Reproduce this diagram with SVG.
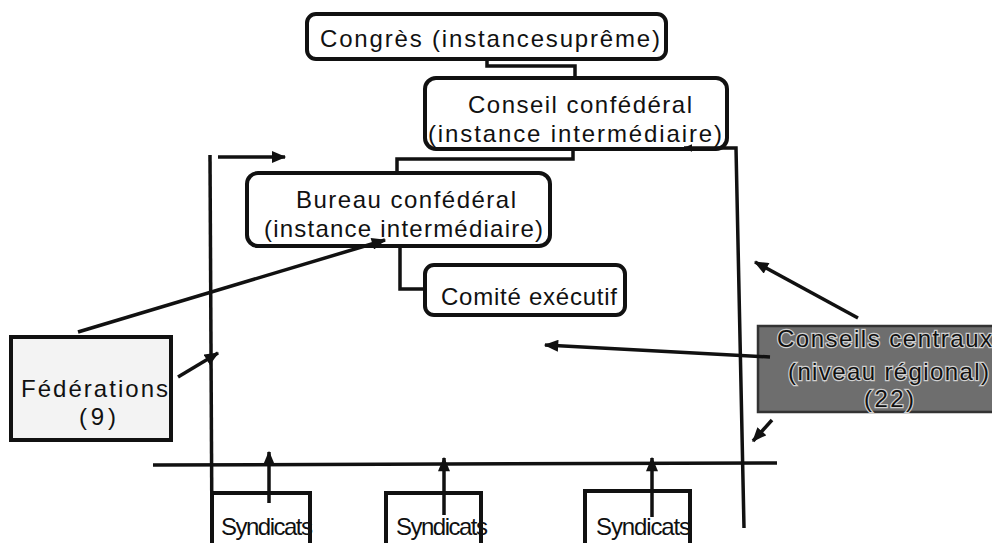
<svg xmlns="http://www.w3.org/2000/svg" width="992" height="543" viewBox="0 0 992 543">
<style>
.box{fill:#fff;stroke:#111;stroke-width:4}
.t{font-family:"Liberation Sans",Arial,sans-serif;fill:#111;font-size:24px}
.ln{fill:none;stroke:#111;stroke-width:3.5}
.halo{paint-order:stroke;stroke:#d0d0d0;stroke-width:2.4px}
</style>
<defs>
<marker id="ah" viewBox="0 0 12 10" refX="11" refY="5" markerWidth="15" markerHeight="12" orient="auto" markerUnits="userSpaceOnUse">
<path d="M0,0 L12,5 L0,10 Z" fill="#111"/>
</marker>
<marker id="ahs" viewBox="0 0 12 10" refX="11" refY="5" markerWidth="9" markerHeight="8" orient="auto" markerUnits="userSpaceOnUse">
<path d="M0,0 L12,5 L0,10 Z" fill="#111"/>
</marker>
</defs>
<rect width="992" height="543" fill="#fff"/>

<g id="congres">
<rect class="box" x="307" y="14" width="359" height="45" rx="9"/>
<text class="t" x="320" y="47" textLength="340" lengthAdjust="spacing">Congrès (instancesuprême)</text>
</g>

<g id="conseil-confederal">
<rect class="box" x="425" y="78" width="302" height="71" rx="11"/>
<text class="t" x="468" y="113" textLength="224" lengthAdjust="spacing">Conseil confédéral</text>
<text class="t" x="428" y="142" textLength="294" lengthAdjust="spacing">(instance intermédiaire)</text>
</g>

<g id="bureau-confederal">
<rect class="box" x="247" y="173" width="303" height="73" rx="11"/>
<text class="t" x="296" y="208" textLength="220" lengthAdjust="spacing">Bureau confédéral</text>
<text class="t" x="264" y="237" textLength="279" lengthAdjust="spacing">(instance intermédiaire)</text>
</g>

<g id="comite-executif">
<rect class="box" x="425" y="265" width="200" height="50" rx="9"/>
<text class="t" x="441" y="305" font-size="23" textLength="176" lengthAdjust="spacing">Comité exécutif</text>
</g>

<g id="federations">
<rect x="11" y="337" width="160" height="103" fill="#f3f3f3" stroke="#111" stroke-width="4"/>
<text class="t" x="21" y="397" font-size="23" textLength="147" lengthAdjust="spacing">Fédérations</text>
<text class="t" x="79" y="425" font-size="23" textLength="37" lengthAdjust="spacing">(9)</text>
</g>

<g id="conseils-centraux">
<rect x="758" y="326" width="240" height="86" fill="#6e6e6e" stroke="#333" stroke-width="2.5"/>
<text class="t halo" x="777" y="347" font-size="23" textLength="215" lengthAdjust="spacing">Conseils centraux</text>
<text class="t halo" x="788" y="380" font-size="23" textLength="201" lengthAdjust="spacing">(niveau régional)</text>
<text class="t halo" x="864" y="407" font-size="23" textLength="50" lengthAdjust="spacing">(22)</text>
</g>

<g id="syndicats-1">
<rect class="box" x="212" y="493" width="98" height="60"/>
<text class="t" x="221" y="535" font-size="19" textLength="92" lengthAdjust="spacing">Syndicats</text>
</g>
<g id="syndicats-2">
<rect class="box" x="386" y="493" width="95" height="60"/>
<text class="t" x="396" y="535" font-size="19" textLength="92" lengthAdjust="spacing">Syndicats</text>
</g>
<g id="syndicats-3">
<rect class="box" x="585" y="491" width="105" height="62"/>
<text class="t" x="596" y="535" font-size="19" textLength="95" lengthAdjust="spacing">Syndicats</text>
</g>

<g id="connectors">
<polyline class="ln" points="487,60 487,66 575,66 575,77"/>
<polyline class="ln" points="573,150 573,159 397,159 397,172"/>
<polyline class="ln" points="400,248 400,289 424,289"/>
<polyline class="ln" points="744,528 736,148 684,148" marker-end="url(#ahs)"/>
<line class="ln" x1="210" y1="155" x2="212" y2="543"/>
<line class="ln" x1="218" y1="157" x2="285" y2="157" marker-end="url(#ah)"/>
<line class="ln" x1="153" y1="465" x2="777" y2="463"/>
<line class="ln" x1="78" y1="332" x2="385" y2="240" marker-end="url(#ah)"/>
<line class="ln" x1="178" y1="377" x2="218" y2="353" marker-end="url(#ah)"/>
<line class="ln" x1="858" y1="318" x2="755" y2="262" marker-end="url(#ah)"/>
<line class="ln" x1="770" y1="357" x2="545" y2="345" marker-end="url(#ah)"/>
<line class="ln" x1="772" y1="420" x2="753" y2="441" marker-end="url(#ah)"/>
<line class="ln" x1="269" y1="503" x2="269" y2="452" marker-end="url(#ah)"/>
<line class="ln" x1="444" y1="515" x2="444" y2="458" marker-end="url(#ah)"/>
<line class="ln" x1="652" y1="517" x2="652" y2="458" marker-end="url(#ah)"/>
</g>
</svg>
